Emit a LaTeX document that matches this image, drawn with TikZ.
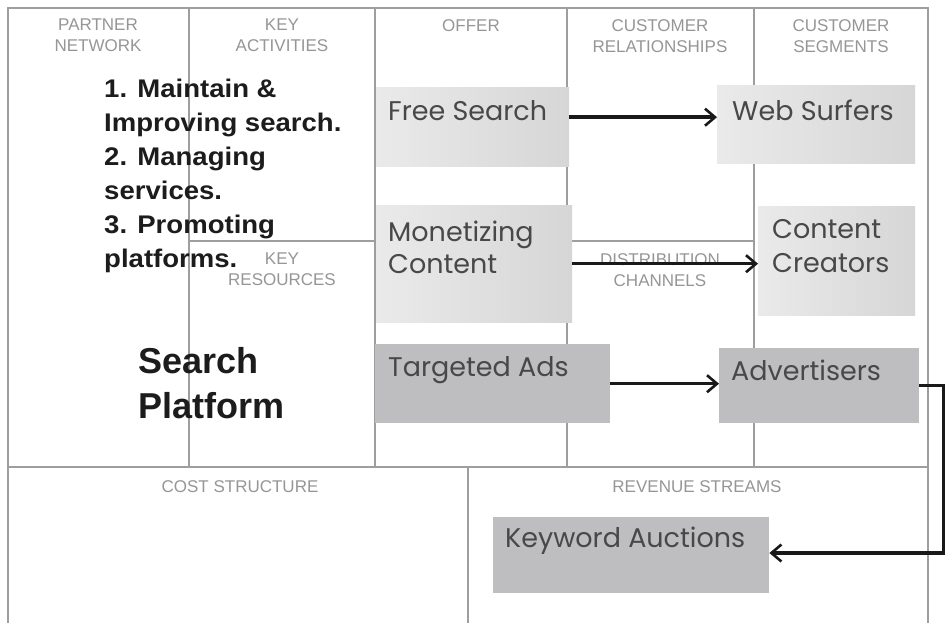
\documentclass[tikz,border=0pt]{standalone}
\usepackage{fontspec}
\setmainfont{Liberation Sans}
\newfontfamily\boxfont{Poppins}
\usetikzlibrary{arrows.meta}
\definecolor{gridc}{RGB}{158,158,158}
\definecolor{hdrc}{RGB}{150,150,150}
\definecolor{boxtxt}{RGB}{72,72,72}
\definecolor{dkbox}{RGB}{190,190,192}
\definecolor{lgA}{RGB}{234,234,234}
\definecolor{lgB}{RGB}{214,214,214}
\definecolor{boldc}{RGB}{28,28,28}
\definecolor{arrc}{RGB}{25,25,25}
\begin{document}
\begin{tikzpicture}[x=1pt,y=-1pt,
  gridline/.style={draw=gridc, line width=2pt},
  hdr/.style={text=hdrc, font=\fontsize{17}{21}\selectfont, align=center, inner sep=0pt, anchor=north},
  lightbox/.style={left color=lgA, right color=lgB, draw=none, inner sep=0pt, anchor=north west},
  darkbox/.style={fill=dkbox, draw=none, inner sep=0pt, anchor=north west},
  btxt/.style={text=boxtxt, font=\boxfont\fontsize{27}{32}\selectfont, align=left, inner sep=0pt, anchor=base west},
  arr/.style={draw=arrc, line width=3.5pt, -{Straight Barb[length=10pt, width=17pt, line width=2.6pt]}},
  bigtxt/.style={text=boldc, align=left, inner sep=0pt, anchor=north west}
]
\useasboundingbox[fill=white] (0,0) rectangle (945,622);
% grid
\draw[gridline] (8,630) -- (8,8) -- (928,8) -- (928,630);
\draw[gridline] (8,467) -- (928,467);
\draw[gridline] (189,8) -- (189,467);
\draw[gridline] (375,8) -- (375,467);
\draw[gridline] (567,8) -- (567,467);
\draw[gridline] (754,8) -- (754,467);
\draw[gridline] (189,241) -- (375,241);
\draw[gridline] (567,241) -- (754,241);
\draw[gridline] (468,467) -- (468,630);
% headers
\node[hdr] (hpn) at (98,19) {PARTNER\\NETWORK};
\node[hdr] (hka) at (282,19) {KEY\\ACTIVITIES};
\node[hdr] (hof) at (471,19) {OFFER};
\node[hdr] (hcr) at (660,19) {CUSTOMER\\RELATIONSHIPS};
\node[hdr] (hcs) at (841,19) {CUSTOMER\\SEGMENTS};
\node[hdr] (hkr) at (282,253) {KEY\\RESOURCES};
\node[hdr] (hdc) at (660,253) {DISTRIBUTION\\CHANNELS};
\node[hdr] (hcost) at (240,480) {COST STRUCTURE};
\node[hdr] (hrev) at (697,480) {REVENUE STREAMS};
% boxes
\node[lightbox, minimum width=193pt, minimum height=79pt] (fs) at (376,87) {};
\node[lightbox, minimum width=196pt, minimum height=117pt] (mc) at (376,205) {};
\node[darkbox, minimum width=235pt, minimum height=79pt] (ta) at (375,344) {};
\node[lightbox, minimum width=198pt, minimum height=78pt] (ws) at (717,85) {};
\node[lightbox, minimum width=157pt, minimum height=109pt] (cc) at (758,206) {};
\node[darkbox, minimum width=200pt, minimum height=75pt] (adv) at (719,348) {};
\node[darkbox, minimum width=276pt, minimum height=76pt] (kw) at (493,517) {};
% box texts (multi-line: anchor at last baseline)
\node[btxt] (fst) at (388,120) {Free Search};
\node[btxt] (mct) at (388,273) {Monetizing\\Content};
\node[btxt] (tat) at (388,376) {Targeted Ads};
\node[btxt] (wst) at (732,120) {Web Surfers};
\node[btxt, font=\boxfont\fontsize{27}{34}\selectfont] (cct) at (772,272) {Content\\Creators};
\node[btxt] (advt) at (731,380) {Advertisers};
\node[btxt] (kwt) at (505,547) {Keyword Auctions};
% bold texts
\node[bigtxt, xscale=1.08, font=\bfseries\fontsize{25.5}{34}\selectfont] (acts) at (104,78.5)
  {1. Maintain \&\\Improving search.\\2. Managing\\services.\\3. Promoting\\platforms.};
\node[bigtxt, font=\bfseries\fontsize{36}{45}\selectfont] (sp) at (138,347) {Search\\Platform};
% arrows
\coordinate (a1) at ([yshift=9.5pt]fs.east);
\draw[arr] (a1) -- (a1 -| ws.west);
\draw[arr] (mc.east) -- (mc.east -| cc.west);
\draw[arr] (ta.east) -- (ta.east -| adv.west);
\coordinate (c1) at (944,553);
\draw[arr] (adv.east) -| (c1) -- (c1 -| kw.east);
\end{tikzpicture}
\end{document}
